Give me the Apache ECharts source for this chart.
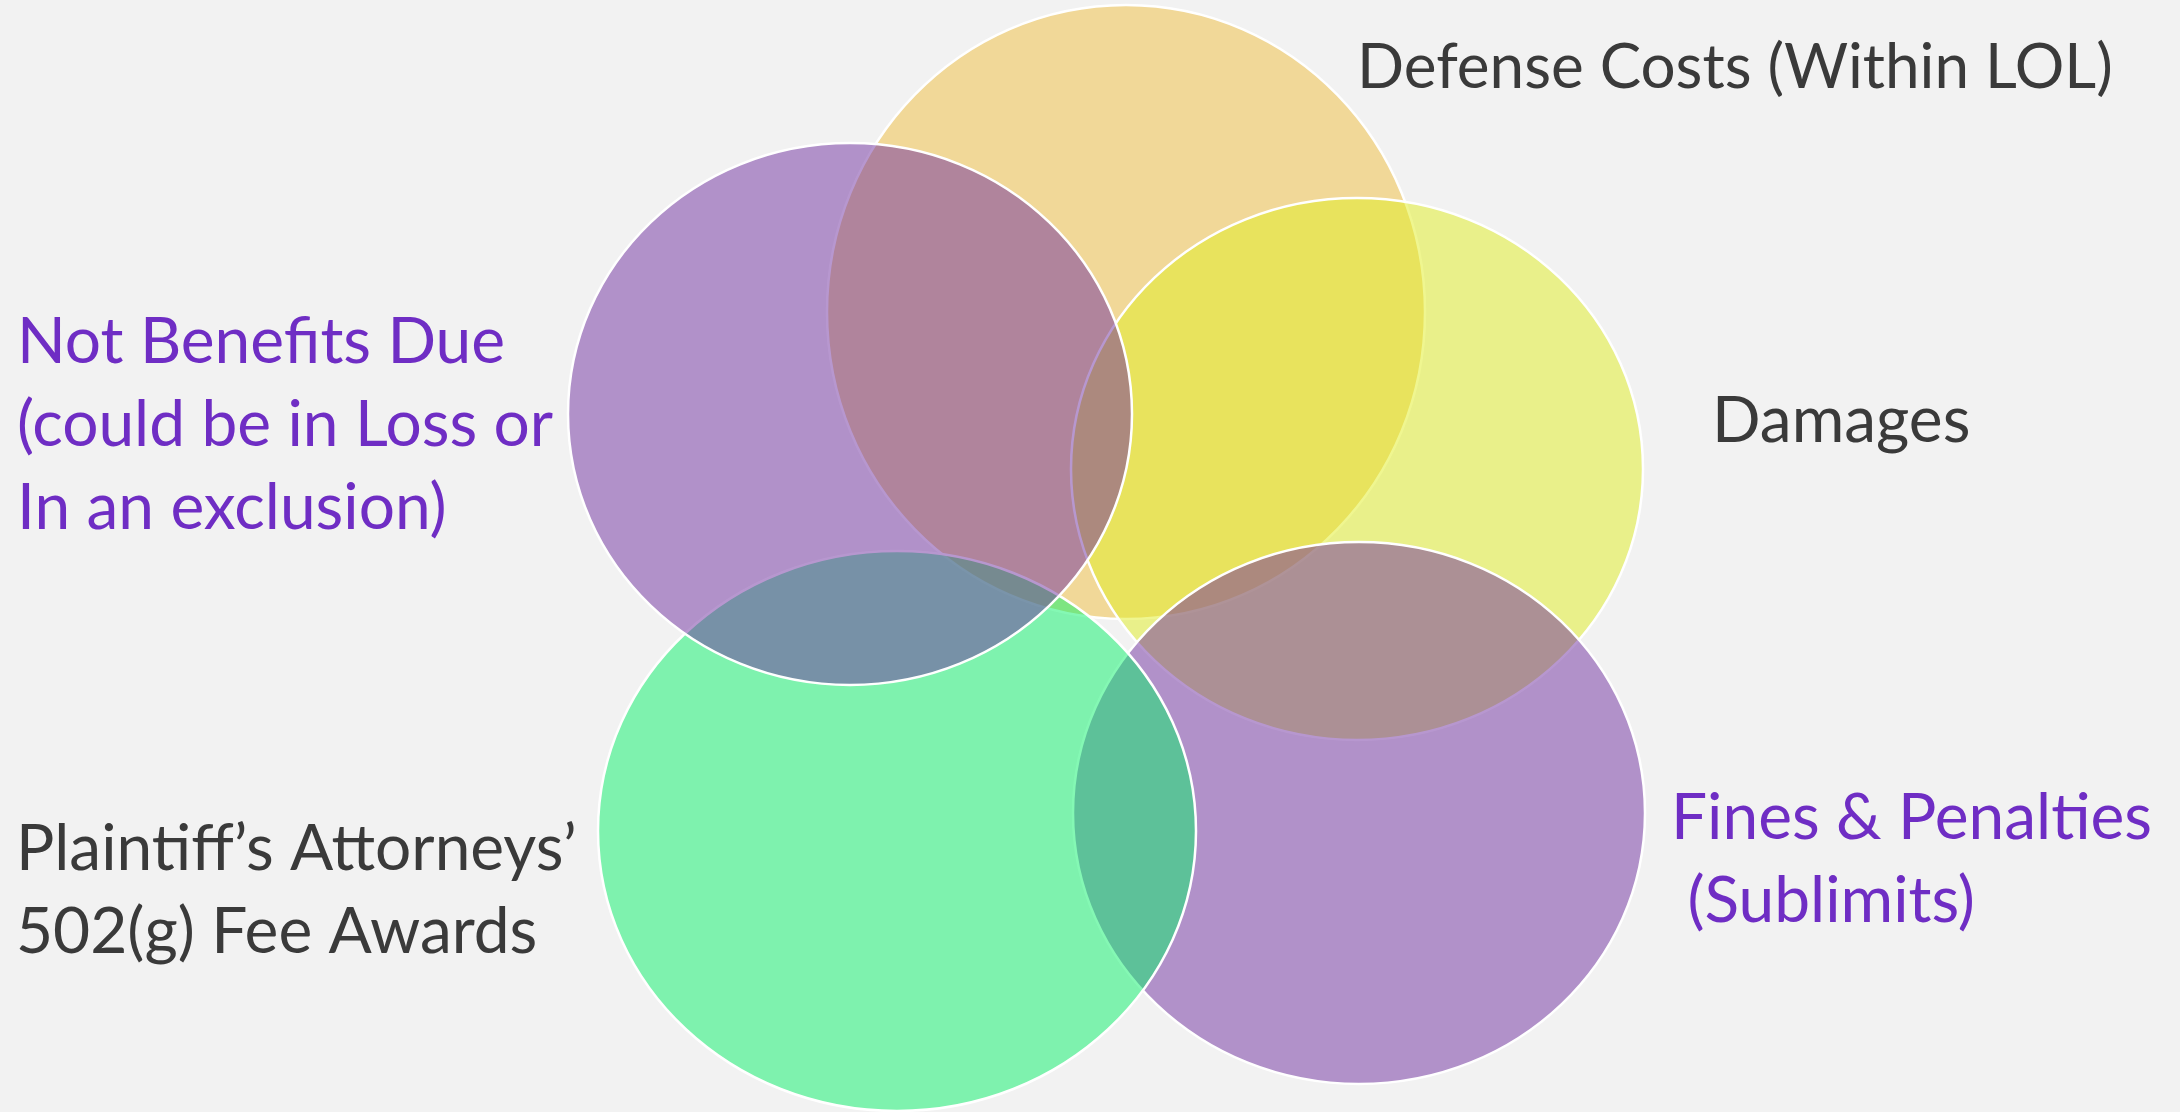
<!DOCTYPE html>
<html>
<head>
<meta charset="utf-8">
<script src="https://cdn.jsdelivr.net/npm/echarts@6/dist/echarts.min.js"></script>
<style>
html,body{margin:0;padding:0;background:#F2F2F2;}
#chart{width:2180px;height:1112px;}
</style>
</head>
<body>
<div id="chart"></div>
<script>
// Sets, in drawing order (bottom to top)
var setNames = ['Defense Costs (Within LOL)', 'Damages', 'Fines & Penalties\n (Sublimits)', 'Plaintiff\u2019s Attorneys\u2019\n502(g) Fee Awards', 'Not Benefits Due\n(could be in Loss or\nIn an exclusion)'];
var centerX = [1126, 1357, 1359, 897, 850];
var centerY = [312, 469, 813, 831, 414];
var radiusX = [299, 286, 286, 299, 282];
var radiusY = [307, 271, 271, 280, 271];

var fills = ['rgba(240,190,62,0.5)', 'rgba(224,238,34,0.5)', 'rgba(112,48,160,0.5)', 'rgba(10,242,106,0.5)', 'rgba(112,48,160,0.5)'];
var labelColors = ['#3A3A3A', '#3A3A3A', '#6F2DC4', '#3A3A3A', '#6F2DC4'];
var labelPos = [[1357, 68], [1712, 421], [1671, 860], [16, 891], [17, 425]];

var data = [];
for (var i = 0; i < setNames.length; i++) {
  data.push([centerX[i], centerY[i], radiusX[i], radiusY[i]]);
}

var chart = echarts.init(document.getElementById('chart'), null, {renderer: 'canvas'});
var graphics = [];
for (var j = 0; j < setNames.length; j++) {
  graphics.push({
    type: 'text',
    x: labelPos[j][0],
    y: labelPos[j][1],
    z: 100,
    style: {
      text: setNames[j],
      fill: labelColors[j],
      font: (j === 0 ? '62px' : '64px') + ' Lato',
      lineHeight: 83,
      textAlign: 'left',
      textVerticalAlign: 'middle'
    }
  });
}
chart.setOption({
  backgroundColor: '#F2F2F2',
  animation: false,
  grid: {left: 0, right: 0, top: 0, bottom: 0},
  xAxis: {type: 'value', min: 0, max: 2180, show: false},
  yAxis: {type: 'value', min: 0, max: 1112, inverse: true, show: false},
  graphic: graphics,
  series: [{
    type: 'custom',
    coordinateSystem: 'cartesian2d',
    data: data,
    renderItem: function (params, api) {
      var c = api.coord([api.value(0), api.value(1)]);
      var s = api.size([api.value(2), api.value(3)]);
      return {
        type: 'ellipse',
        shape: {cx: c[0], cy: c[1], rx: Math.abs(s[0]), ry: Math.abs(s[1])},
        style: {fill: fills[params.dataIndex], stroke: '#FFFFFF', lineWidth: 2.5}
      };
    }
  }]
});
</script>
</body>
</html>
